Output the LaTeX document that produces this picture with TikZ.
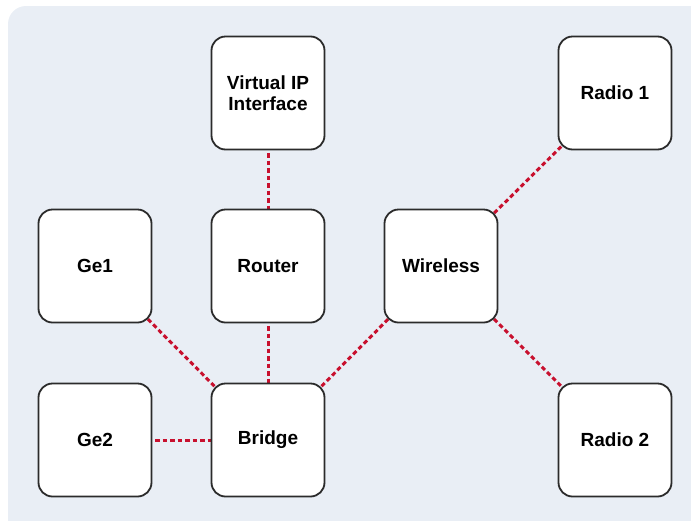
\documentclass[tikz,border=0pt]{standalone}
\usepackage{fontspec}
\setmainfont{Liberation Sans}
\usetikzlibrary{backgrounds}
\definecolor{bgfill}{HTML}{E9EEF5}
\definecolor{linkred}{HTML}{C8102E}
\definecolor{boxline}{HTML}{2B2B2B}
\begin{document}
\begin{tikzpicture}[x=1pt,y=-1pt,
  box/.style={draw=boxline,line width=1.8pt,fill=white,rounded corners=14pt,
    minimum width=113pt,minimum height=113pt,inner sep=0pt,align=center,
    font=\fontsize{19}{21.5}\selectfont\bfseries},
  link/.style={draw=linkred,line width=3pt,dash pattern=on 4.5pt off 3pt}]
\useasboundingbox (0,0) rectangle (691,520);
\node[box] (vip) at (268,93) {Virtual IP\\Interface};
\node[box] (router) at (268,266) {Router};
\node[box] (ge1) at (95,266) {Ge1};
\node[box] (ge2) at (95,440) {Ge2};
\node[box] (bridge) at (268,440) {Bridge};
\node[box] (wireless) at (441,266) {Wireless};
\node[box] (radio1) at (615,93) {Radio 1};
\node[box] (radio2) at (615,440) {Radio 2};
\begin{scope}[on background layer]
\fill[bgfill,rounded corners=18pt] (8,6) rectangle (711,540);
\draw[link] (vip.center) -- (router.center);
\draw[link] (router.center) -- (bridge.center);
\draw[link] (ge1.center) -- (bridge.center);
\draw[link] (ge2.center) -- (bridge.center);
\draw[link] (wireless.center) -- (bridge.center);
\draw[link] (wireless.center) -- (radio1.center);
\draw[link] (wireless.center) -- (radio2.center);
\end{scope}
\end{tikzpicture}
\end{document}
